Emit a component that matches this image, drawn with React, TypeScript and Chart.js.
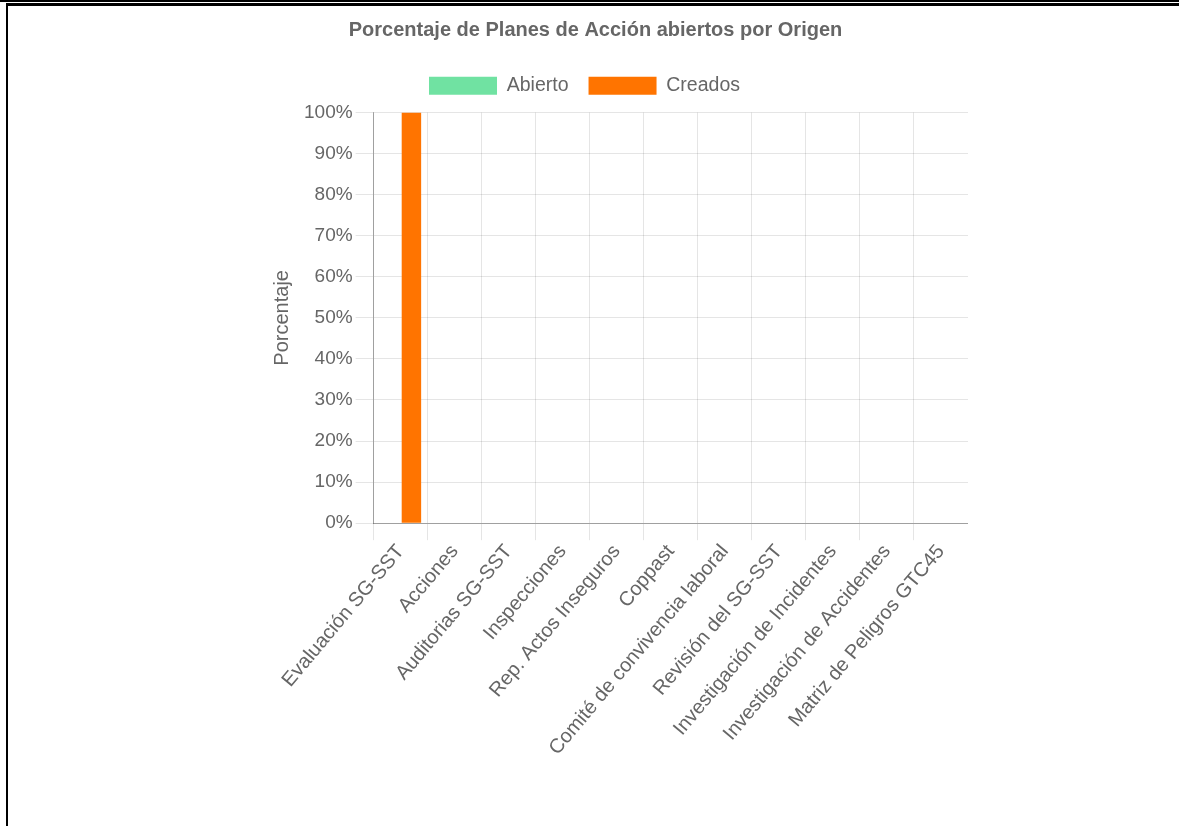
import React, { useEffect, useRef } from "react";
import { Chart, registerables } from "chart.js";

Chart.register(...registerables);

const chartTitle = "Porcentaje de Planes de Acción abiertos por Origen";
const yAxisTitle = "Porcentaje";
const categories = [
  "Evaluación SG-SST",
  "Acciones",
  "Auditorias SG-SST",
  "Inspecciones",
  "Rep. Actos Inseguros",
  "Coppast",
  "Comité de convivencia laboral",
  "Revisión del SG-SST",
  "Investigación de Incidentes",
  "Investigación de Accidentes",
  "Matriz de Peligros GTC45",
];
const abiertoValues = [0, 0, 0, 0, 0, 0, 0, 0, 0, 0, 0];
const creadosValues = [100, 0, 0, 0, 0, 0, 0, 0, 0, 0, 0];
const seriesNames = ["Abierto", "Creados"];
const yMin = 0;
const yMax = 100;
const yStep = 10;

const FONT = "Arial, 'Liberation Sans', Helvetica, sans-serif";
const TEXT = "#666";

const legendTweak = {
  id: "legendTweak",
  beforeInit(chart: any) {
    const legend = chart.legend;
    if (!legend) return;
    const origFit = legend.fit;
    legend.fit = function () {
      origFit.call(this);
      this.height += 7;
    };
  },
  afterLayout(chart: any) {
    const legend = chart.legend;
    if (!legend) return;
    legend.left -= 11;
    legend.right -= 11;
  },
};

export default function App() {
  const ref = useRef<HTMLCanvasElement | null>(null);

  useEffect(() => {
    if (!ref.current) return;
    const chart = new Chart(ref.current, {
      type: "bar",
      data: {
        labels: categories,
        datasets: [
          {
            label: seriesNames[0],
            data: abiertoValues,
            backgroundColor: "rgb(112,226,162)",
            borderWidth: 0,
          },
          {
            label: seriesNames[1],
            data: creadosValues,
            backgroundColor: "rgb(255,116,0)",
            borderWidth: 0,
          },
        ],
      },
      plugins: [legendTweak],
      options: {
        animation: false,
        responsive: true,
        maintainAspectRatio: false,
        layout: { padding: 0 },
        plugins: {
          title: {
            display: true,
            text: chartTitle,
            color: TEXT,
            font: { family: FONT, size: 20, weight: "bold" },
            padding: { top: 10, bottom: 14 },
          },
          legend: {
            display: true,
            position: "top",
            labels: {
              color: TEXT,
              font: { family: FONT, size: 19.5 },
              boxWidth: 68,
              boxHeight: 18,
              padding: 20,
            },
          },
          tooltip: { enabled: false },
        },
        scales: {
          x: {
            offset: true,
            grid: {
              offset: true,
              tickLength: 17,
              color: (ctx: any) =>
                ctx.type === "tick" && typeof ctx.index === "number"
                  ? "rgba(0,0,0,0.1)"
                  : "rgba(0,0,0,0)",
            },
            border: { color: "rgba(0,0,0,0.3)" },
            ticks: {
              color: TEXT,
              font: { family: FONT, size: 20 },
              minRotation: 50,
              maxRotation: 50,
              autoSkip: false,
              padding: 0,
            },
          },
          y: {
            min: yMin,
            max: yMax,
            grid: { tickLength: 18, color: "rgba(0,0,0,0.1)" },
            border: { color: "rgba(0,0,0,0.3)" },
            ticks: {
              stepSize: yStep,
              color: TEXT,
              font: { family: FONT, size: 19 },
              padding: 3,
              callback: (v: any) => v + "%",
            },
            title: {
              display: true,
              text: yAxisTitle,
              color: TEXT,
              font: { family: FONT, size: 20 },
              padding: { top: 47, bottom: 7 },
            },
          },
        },
      },
    });
    return () => chart.destroy();
  }, []);

  return (
    <div
      style={{
        position: "fixed",
        left: 0,
        top: 0,
        width: 1179,
        height: 826,
        background: "#fff",
        overflow: "hidden",
      }}
    >
      <div style={{ position: "absolute", left: 0, top: 0, width: 1179, height: 2, background: "#000" }} />
      <div style={{ position: "absolute", left: 6, top: 3, width: 1173, height: 3, background: "#000" }} />
      <div style={{ position: "absolute", left: 6, top: 3, width: 2, height: 823, background: "#000" }} />
      <div style={{ position: "absolute", left: 223, top: 8, width: 745, height: 752 }}>
        <canvas ref={ref} />
      </div>
    </div>
  );
}
